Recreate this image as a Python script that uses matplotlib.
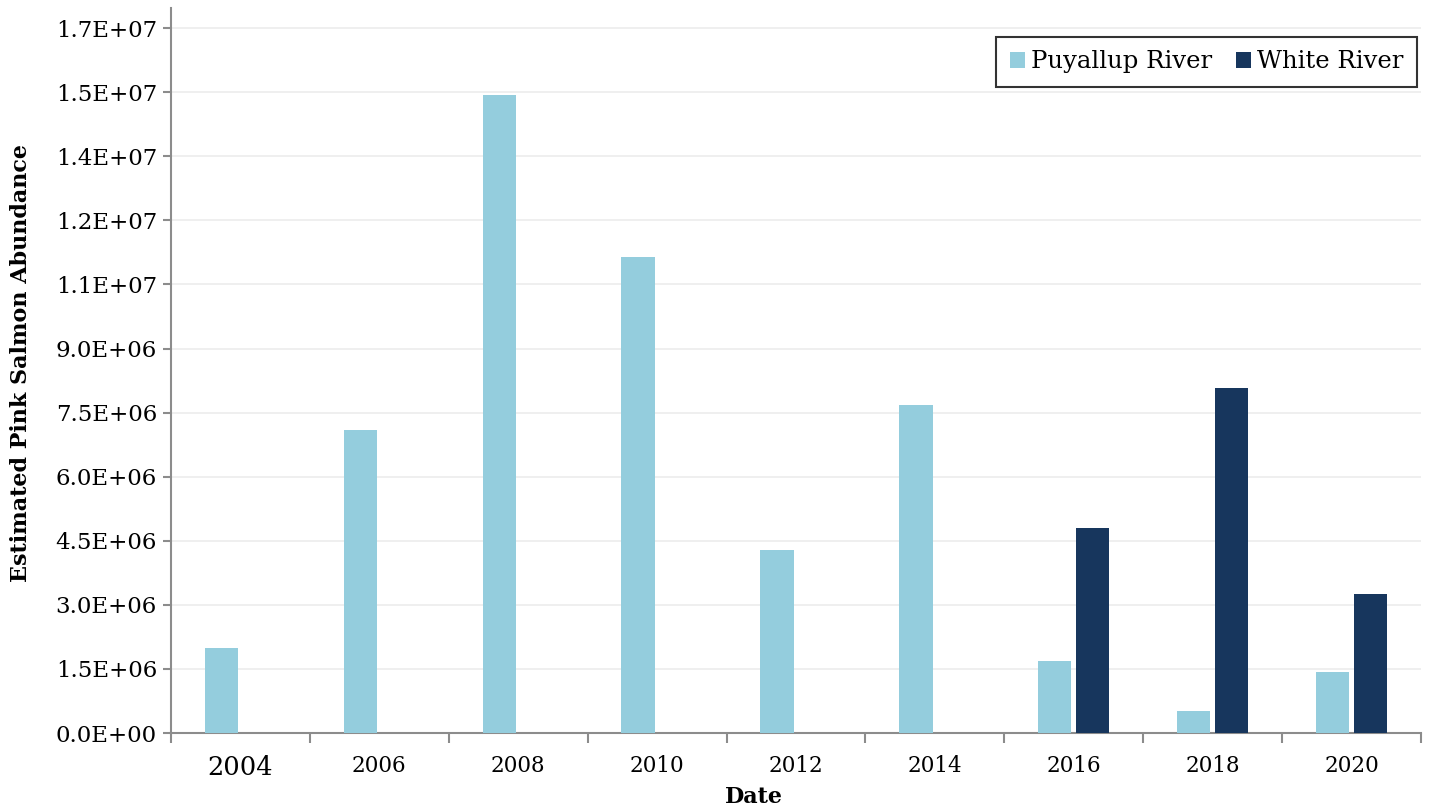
import matplotlib.pyplot as plt
import numpy as np
from matplotlib.ticker import FixedLocator

years = ['2004', '2006', '2008', '2010', '2012', '2014', '2016', '2018', '2020']
puyallup = [2.0e6, 7.09e6, 14.93e6, 11.14e6, 4.28e6, 7.68e6, 1.68e6, 0.51e6, 1.43e6]
white = [0, 0, 0, 0, 0, 0, 4.80e6, 8.07e6, 3.25e6]

yticks = [0, 1.5e6, 3.0e6, 4.5e6, 6.0e6, 7.5e6, 9.0e6, 10.5e6, 12.0e6, 13.5e6, 15.0e6, 16.5e6]
ytick_labels = ['0.0E+00', '1.5E+06', '3.0E+06', '4.5E+06', '6.0E+06', '7.5E+06',
                '9.0E+06', '1.1E+07', '1.2E+07', '1.4E+07', '1.5E+07', '1.7E+07']

light = '#94CDDD'
dark = '#17365D'
axcol = '#8c8c8c'

plt.rcParams['font.family'] = ['DejaVu Serif']

fig = plt.figure(figsize=(14.31, 8.10), dpi=100)
ax = fig.add_axes([0.1195, 0.095, 0.8735, 0.895])

x = np.arange(len(years))
w = 0.24
off = 0.137
ax.bar(x - off, puyallup, w, color=light, label='Puyallup River', zorder=3)
ax.bar(x + off, white, w, color=dark, label='White River', zorder=3)

ax.set_xlim(-0.5, len(years) - 0.5)
ax.set_ylim(0, 16.97e6)

ax.set_yticks(yticks)
ax.set_yticklabels(ytick_labels, fontsize=16.5)
ax.yaxis.grid(True, color='#ececec', linewidth=1.2, zorder=0)

ax.set_xticks(x)
ax.set_xticklabels(years, fontsize=15.5)
ax.get_xticklabels()[0].set_fontsize(18.5)
ax.tick_params(axis='x', which='major', length=0, pad=16)
ax.xaxis.set_minor_locator(FixedLocator(np.arange(-0.5, len(years), 1.0)))
ax.tick_params(axis='x', which='minor', length=7, width=1.5, color=axcol)
ax.tick_params(axis='y', length=6, width=1.5, color=axcol, pad=4)

for s in ['top', 'right']:
    ax.spines[s].set_visible(False)
for s in ['left', 'bottom']:
    ax.spines[s].set_color(axcol)
    ax.spines[s].set_linewidth(1.5)

ax.set_xlabel('Date', fontsize=16, fontweight='bold')
ax.xaxis.set_label_coords(0.466, -0.073)
ax.set_ylabel('Estimated Pink Salmon Abundance', fontsize=16, fontweight='bold')
ax.yaxis.set_label_coords(-0.111, 0.51)

leg = ax.legend(loc='upper right', ncol=2, fontsize=17.5, frameon=True, fancybox=False,
                edgecolor='black', handlelength=0.62, handleheight=0.62, handletextpad=0.25,
                columnspacing=1.0, borderpad=0.55, borderaxespad=0,
                bbox_to_anchor=(0.9968, 0.96))
leg.get_frame().set_linewidth(1.5)

fig.savefig('out.png', dpi=100)
